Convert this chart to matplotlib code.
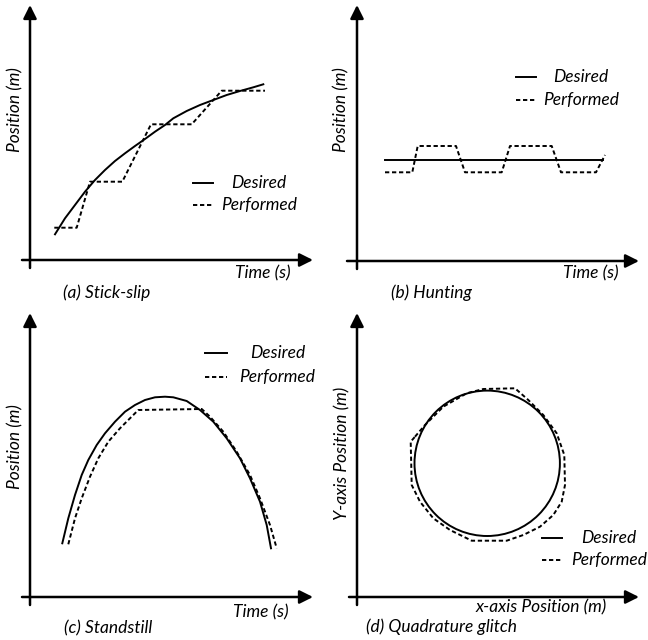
import matplotlib
matplotlib.use('Agg')
from matplotlib import pyplot as plt

plt.rcParams['font.family'] = ['Lato', 'DejaVu Sans']
plt.rcParams['font.style'] = 'italic'
FS = 12.5

# %% data (arbitrary units, origin of each sketch at 0,0)
# (a) stick-slip
a_des_t = [2.5, 3.5, 4.5, 5.5, 6.5, 7.5, 8.5, 9.5, 10.5, 11.5, 12.5, 13.5,
           14.33, 15.67, 17.0, 18.33, 19.67, 21.0, 22.33, 23.33]
a_des_p = [2.57, 4.17, 5.5, 6.83, 8.0, 9.0, 9.9, 10.67, 11.4, 12.1, 12.83, 13.5,
           14.17, 14.9, 15.5, 16.0, 16.5, 16.9, 17.27, 17.57]
a_per_t = [2.43, 4.67, 6.0, 9.23, 12.1, 16.17, 19.17, 23.5]
a_per_p = [3.23, 3.23, 7.83, 7.83, 13.57, 13.57, 16.93, 16.93]

# (b) hunting
b_des_t = [2.8, 24.57]
b_des_p = [10.1, 10.1]
b_per_t = [2.8, 5.53, 6.07, 9.9, 10.8, 14.47, 15.3, 19.47, 20.4, 23.9, 24.8]
b_per_p = [8.87, 8.87, 11.5, 11.5, 8.87, 8.87, 11.5, 11.5, 8.87, 8.87, 10.6]

# (c) standstill
c_des_t = [3.23, 3.83, 4.5, 5.17, 5.83, 6.67, 7.5, 8.5, 9.5, 10.5, 11.5, 12.5, 13.5,
           14.33, 15.67, 17.0, 18.33, 19.67, 21.0, 22.0, 23.0, 23.67, 24.1]
c_des_p = [5.37, 7.87, 10.2, 12.2, 13.7, 15.2, 16.37, 17.53, 18.53, 19.2, 19.7, 19.97, 20.03,
           19.97, 19.6, 18.7, 17.53, 15.87, 13.87, 11.87, 9.53, 7.2, 4.87]
c_per_t = [3.83, 4.5, 5.17, 6.0, 6.83, 7.83, 9.0, 10.0, 10.83,
           17.17, 18.0, 19.33, 20.67, 22.0, 23.0, 24.0, 24.67]
c_per_p = [5.27, 7.87, 9.87, 12.03, 13.87, 15.53, 16.87, 17.87, 18.7,
           18.8, 18.03, 16.53, 14.53, 12.2, 9.87, 7.2, 4.87]

# (d) quadrature glitch
d_center = (13.02, 13.37)
d_radius = 7.27
d_per_x = [5.8, 6.8, 8.63, 10.97, 12.63, 15.8, 17.13, 18.63, 19.97, 20.73, 20.8, 20.47,
           19.63, 18.3, 16.63, 14.97, 11.47, 11.13, 9.3, 7.63, 6.3, 5.47, 5.37, 5.8]
d_per_y = [16.03, 17.2, 19.03, 20.37, 20.8, 20.87, 19.7, 18.2, 16.37, 14.2, 11.2, 9.53,
           8.2, 7.03, 6.2, 5.63, 5.63, 5.8, 6.7, 7.87, 9.53, 11.2, 15.53, 16.03]

W, H = 648, 640
fig = plt.figure(figsize=(W / 100, H / 100), dpi=100)


def make_ax(x0, y0, w, h, ox, oy):
    # pixel rectangle -> axes, 10 px per data unit, origin at pixel (ox, oy)
    ax = fig.add_axes([x0 / W, 1 - (y0 + h) / H, w / W, h / H])
    ax.set_xlim((x0 - ox) / 10, (x0 + w - ox) / 10)
    ax.set_ylim((oy - y0 - h) / 10, (oy - y0) / 10)
    ax.axis('off')
    return ax


def arrows(ax, xtip, ytip, xstart=-0.8, ystart=-0.8):
    ap = dict(arrowstyle='-|>', lw=1.8, color='black', mutation_scale=20,
              shrinkA=0, shrinkB=0)
    ax.annotate('', xy=(xtip, 0), xytext=(xstart, 0), arrowprops=ap,
                annotation_clip=False)
    ax.annotate('', xy=(0, ytip), xytext=(0, ystart), arrowprops=ap,
                annotation_clip=False)


def legend(ax, x0, x1, xt, y1, y2):
    ax.plot([x0, x1], [y1, y1], color='black', lw=1.4)
    ax.plot([x0, x1], [y2, y2], color='black', lw=1.4, ls=(0, (2.2, 1.4)))
    ax.text(xt, y1, 'Desired', ha='center', va='center', fontsize=FS)
    ax.text(xt, y2, 'Performed', ha='center', va='center', fontsize=FS)


solid = dict(color='black', lw=1.4)
dashed = dict(color='black', lw=1.4, ls=(0, (2.2, 1.4)))

# %% (a)
ax = make_ax(0, 0, 324, 320, 30, 260)
arrows(ax, 28.3, 25.5)
ax.plot(a_des_t, a_des_p, **solid)
ax.plot(a_per_t, a_per_p, **dashed)
legend(ax, 16.3, 18.3, 22.9, 7.7, 5.5)
ax.text(-1.5, 15.0, 'Position (m)', rotation=90, ha='center', va='center', fontsize=FS)
ax.text(23.3, -1.3, 'Time (s)', ha='center', va='center', fontsize=FS)
ax.text(7.7, -3.3, '(a) Stick-slip', ha='center', va='center', fontsize=FS)

# %% (b)
ax = make_ax(324, 0, 324, 320, 357, 261)
arrows(ax, 28.2, 25.6, xstart=-1.0)
ax.plot(b_des_t, b_des_p, **solid)
ax.plot(b_per_t, b_per_p, **dashed)
legend(ax, 15.9, 17.9, 22.4, 18.4, 16.1)
ax.text(-1.6, 15.1, 'Position (m)', rotation=90, ha='center', va='center', fontsize=FS)
ax.text(23.4, -1.2, 'Time (s)', ha='center', va='center', fontsize=FS)
ax.text(7.4, -3.2, '(b) Hunting', ha='center', va='center', fontsize=FS)

# %% (c)
ax = make_ax(0, 320, 324, 320, 30, 597)
arrows(ax, 28.3, 28.4)
ax.plot(c_des_t, c_des_p, **solid)
ax.plot(c_per_t, c_per_p, **dashed)
legend(ax, 17.5, 19.7, 24.75, 24.4, 22.0)
ax.text(-1.5, 15.0, 'Position (m)', rotation=90, ha='center', va='center', fontsize=FS)
ax.text(23.1, -1.5, 'Time (s)', ha='center', va='center', fontsize=FS)
ax.text(7.8, -3.1, '(c) Standstill', ha='center', va='center', fontsize=FS)

# %% (d)
ax = make_ax(324, 320, 324, 320, 357, 597)
arrows(ax, 28.2, 28.4)
ax.add_patch(plt.Circle(d_center, d_radius, fill=False, **solid))
ax.plot(d_per_x, d_per_y, **dashed)
legend(ax, 18.5, 20.5, 25.2, 5.9, 3.7)
ax.text(-1.5, 14.4, 'Y-axis Position (m)', rotation=90, ha='center', va='center', fontsize=FS)
ax.text(18.45, -1.0, 'x-axis Position (m)', ha='center', va='center', fontsize=FS)
ax.text(8.45, -3.0, '(d) Quadrature glitch', ha='center', va='center', fontsize=FS)

fig.savefig('out.png', dpi=100, facecolor='white')
